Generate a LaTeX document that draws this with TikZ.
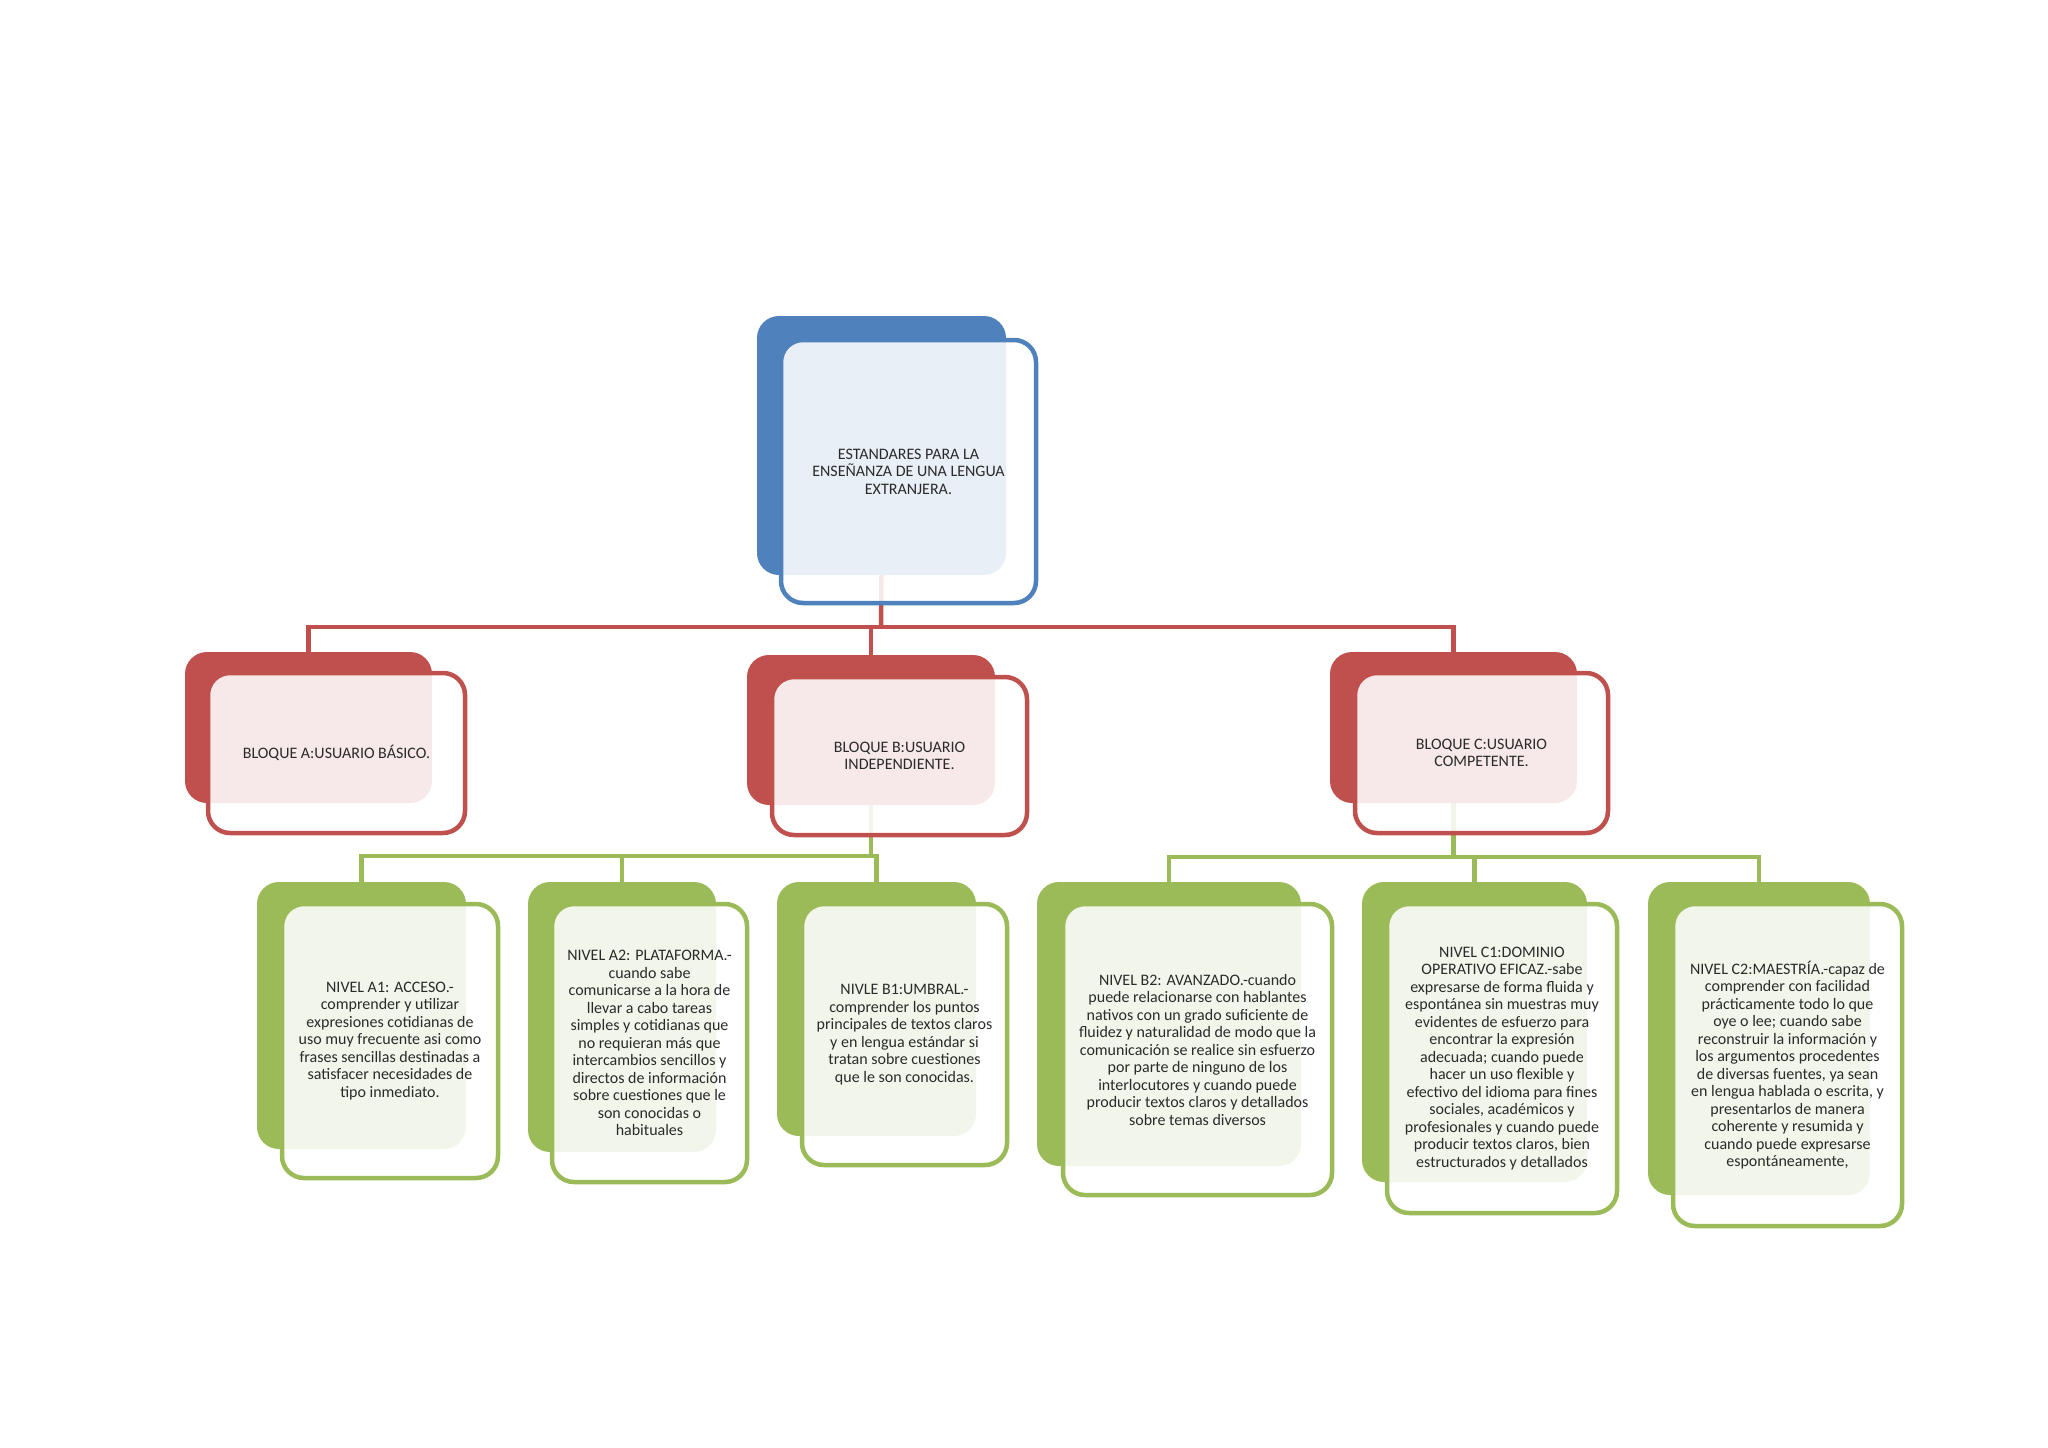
\documentclass[tikz,border=0pt]{standalone}
\usepackage{fontspec}
\setmainfont{Carlito}
\usetikzlibrary{backgrounds}
\definecolor{cblue}{HTML}{4F81BD}
\definecolor{cred}{HTML}{C0504D}
\definecolor{cgreen}{HTML}{9BBB59}
\definecolor{txt}{HTML}{2A2A2A}
\begin{document}
\begin{tikzpicture}[x=1pt,y=-1pt,
  backbox/.style={draw=none, fill=#1, rounded corners=22pt, inner sep=0pt, outer sep=0pt},
  frontbox/.style={draw=#1, line width=4.5pt, fill=white, fill opacity=0.88, text opacity=1,
    rounded corners=22pt, inner sep=0pt, align=center, text=txt,
    font=\fontsize{16}{17.5}\selectfont},
  conn/.style={draw=#1, line width=4.5pt, line join=miter},
]
\useasboundingbox (0,0) rectangle (2048,1448);

% top
\node[backbox=cblue, minimum width=249, minimum height=259] (topB) at (881.5,445.5) {};
\node[frontbox=cblue, minimum width=255, minimum height=263] (topF) at (908.5,471.5)
  {ESTANDARES PARA LA\\ENSEÑANZA DE UNA LENGUA\\EXTRANJERA.};

% bloques
\node[backbox=cred, minimum width=247, minimum height=151] (bA) at (308.5,727.5) {};
\node[frontbox=cred, minimum width=257, minimum height=160] (fA) at (336.5,753)
  {BLOQUE A:USUARIO BÁSICO.};
\node[backbox=cred, minimum width=248, minimum height=150] (bB) at (871,730) {};
\node[frontbox=cred, minimum width=255, minimum height=158] (fB) at (899.5,756)
  {BLOQUE B:USUARIO\\INDEPENDIENTE.};
\node[backbox=cred, minimum width=247, minimum height=151] (bC) at (1453.5,727.5) {};
\node[frontbox=cred, minimum width=253, minimum height=160] (fC) at (1481.5,753)
  {BLOQUE C:USUARIO\\COMPETENTE.};

% niveles
\node[backbox=cgreen, minimum width=209, minimum height=267] (nA1) at (361.5,1015.5) {};
\node[frontbox=cgreen, minimum width=216, minimum height=274] (tA1) at (390,1041)
  {NIVEL A1: ACCESO.-\\comprender y utilizar\\expresiones cotidianas de\\uso muy frecuente asi como\\frases sencillas destinadas a\\satisfacer necesidades de\\tipo inmediato.};

\node[backbox=cgreen, minimum width=188, minimum height=270] (nA2) at (622,1017) {};
\node[frontbox=cgreen, minimum width=195, minimum height=278] (tA2) at (649.5,1043)
  {NIVEL A2: PLATAFORMA.-\\cuando sabe\\comunicarse a la hora de\\llevar a cabo tareas\\simples y cotidianas que\\no requieran más que\\intercambios sencillos y\\directos de información\\sobre cuestiones que le\\son conocidas o\\habituales};

\node[backbox=cgreen, minimum width=199, minimum height=254] (nB1) at (876.5,1009) {};
\node[frontbox=cgreen, minimum width=205, minimum height=261] (tB1) at (904.5,1034.5)
  {NIVLE B1:UMBRAL.-\\comprender los puntos\\principales de textos claros\\y en lengua estándar si\\tratan sobre cuestiones\\que le son conocidas.};

\node[backbox=cgreen, minimum width=264, minimum height=284] (nB2) at (1169,1024) {};
\node[frontbox=cgreen, minimum width=269, minimum height=291] (tB2) at (1197.5,1049.5)
  {NIVEL B2: AVANZADO.-cuando\\puede relacionarse con hablantes\\nativos con un grado suficiente de\\fluidez y naturalidad de modo que la\\comunicación se realice sin esfuerzo\\por parte de ninguno de los\\interlocutores y cuando puede\\producir textos claros y detallados\\sobre temas diversos};

\node[backbox=cgreen, minimum width=225, minimum height=300] (nC1) at (1474.5,1032) {};
\node[frontbox=cgreen, minimum width=230, minimum height=309] (tC1) at (1502,1058.5)
  {NIVEL C1:DOMINIO\\OPERATIVO EFICAZ.-sabe\\expresarse de forma fluida y\\espontánea sin muestras muy\\evidentes de esfuerzo para\\encontrar la expresión\\adecuada; cuando puede\\hacer un uso flexible y\\efectivo del idioma para fines\\sociales, académicos y\\profesionales y cuando puede\\producir textos claros, bien\\estructurados y detallados};

\node[backbox=cgreen, minimum width=222, minimum height=313] (nC2) at (1759,1038.5) {};
\node[frontbox=cgreen, minimum width=229, minimum height=322] (tC2) at (1787.5,1065)
  {NIVEL C2:MAESTRÍA.-capaz de\\comprender con facilidad\\prácticamente todo lo que\\oye o lee; cuando sabe\\reconstruir la información y\\los argumentos procedentes\\de diversas fuentes, ya sean\\en lengua hablada o escrita, y\\presentarlos de manera\\coherente y resumida y\\cuando puede expresarse\\espontáneamente,};

\coordinate (rbus) at (881,627);
\coordinate (gbusB) at (871,856);
\coordinate (gbusC) at (1453.5,857);

\begin{scope}[on background layer]
  \fill[white] (0,0) rectangle (2048,1448);
  \draw[conn=cred] (topB.south) -- (rbus);
  \draw[conn=cred] (rbus) -| (bA.north);
  \draw[conn=cred] (rbus) -| (bB.north);
  \draw[conn=cred] (rbus) -| (bC.north);
  \draw[conn=cgreen] (bB.south) -- (gbusB);
  \draw[conn=cgreen] (gbusB) -| (nA1.north);
  \draw[conn=cgreen] (gbusB) -| (nA2.north);
  \draw[conn=cgreen] (gbusB) -| (nB1.north);
  \draw[conn=cgreen] (bC.south) -- (gbusC);
  \draw[conn=cgreen] (gbusC) -| (nB2.north);
  \draw[conn=cgreen] (gbusC) -| (nC1.north);
  \draw[conn=cgreen] (gbusC) -| (nC2.north);
\end{scope}
\end{tikzpicture}
\end{document}
